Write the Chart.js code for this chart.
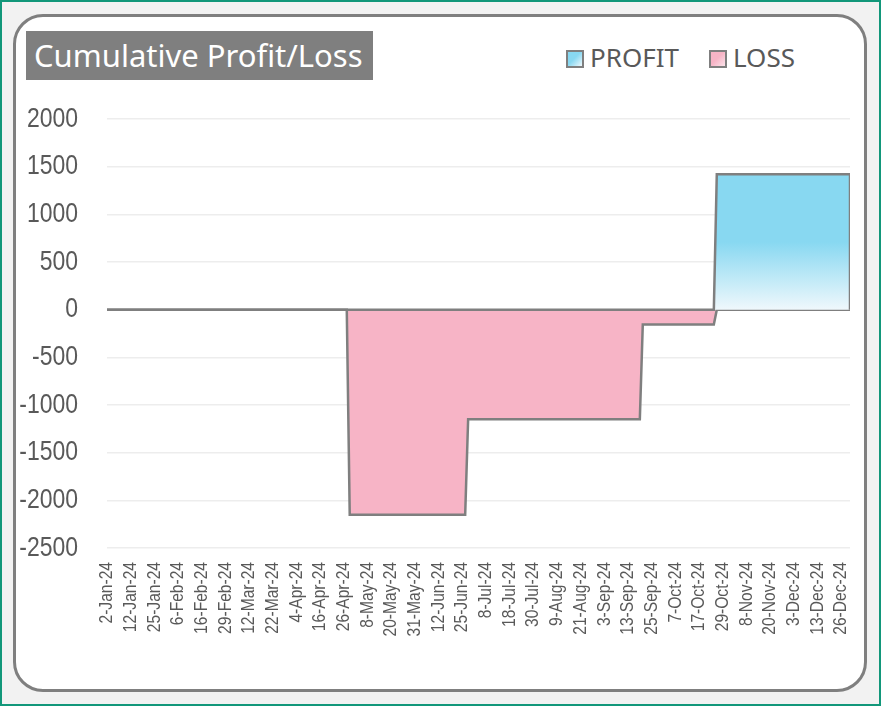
<!DOCTYPE html>
<html>
<head>
<meta charset="utf-8">
<script src="https://cdn.jsdelivr.net/npm/chart.js@4"></script>
<style>
  html, body { margin: 0; padding: 0; }
  body { width: 881px; height: 706px; background: #f2f2f2; position: relative; overflow: hidden; }
  .edge { position: absolute; left: 0; top: 0; width: 877px; height: 702px; border: 2px solid #12977a; }
  .frame { position: absolute; left: 13px; top: 14px; width: 848px; height: 672px; border: 3px solid #7f7f7f; border-radius: 30px; background: #fff; }
  .title { position: absolute; left: 26px; top: 31px; width: 347px; height: 49px; background: #7f7f7f; color: #fff;
           font-family: "Noto Sans", sans-serif; font-size: 31px; line-height: 49px; padding-left: 8px; box-sizing: border-box; white-space: nowrap; }
  .legend { position: absolute; top: 41px; font-family: "Noto Sans", sans-serif; font-size: 26px; color: #595959; line-height: 32px; }
  .legend span.box { display: inline-block; width: 14px; height: 14px; border: 2px solid #7f7f7f; vertical-align: -1px; margin-right: 6px; }
  canvas { position: absolute; left: 0; top: 0; }
</style>
</head>
<body>
<div class="edge"></div>
<div class="frame"></div>
<div class="title">Cumulative Profit/Loss</div>
<div class="legend" style="left:566px"><span class="box" style="background:linear-gradient(135deg,#88d8f1 45%,#eef8fc)"></span>PROFIT</div>
<div class="legend" style="left:709px"><span class="box" style="background:linear-gradient(135deg,#f7b4c6 45%,#fbe3ea)"></span>LOSS</div>
<canvas id="myChart" width="881" height="706"></canvas>
<script>
// x = trading day number in 2024 (0 = 2-Jan-24), one tick label every 8 trading days
const tickLabels = ["2-Jan-24", "12-Jan-24", "25-Jan-24", "6-Feb-24", "16-Feb-24", "29-Feb-24", "12-Mar-24", "22-Mar-24",
  "4-Apr-24", "16-Apr-24", "26-Apr-24", "8-May-24", "20-May-24", "31-May-24", "12-Jun-24", "25-Jun-24",
  "8-Jul-24", "18-Jul-24", "30-Jul-24", "9-Aug-24", "21-Aug-24", "3-Sep-24", "13-Sep-24", "25-Sep-24",
  "7-Oct-24", "17-Oct-24", "29-Oct-24", "8-Nov-24", "20-Nov-24", "3-Dec-24", "13-Dec-24", "26-Dec-24"];
const tickEvery = 8;
const lastDay = 251;

const profitDays   = [0, 205, 206, 251, 251];
const profitValues = [0, 0, 1420, 1420, 0];

const lossDays   = [0, 81, 82, 121, 122, 180, 181, 205, 206, 251];
const lossValues = [0, 0, -2150, -2150, -1150, -1150, -155, -155, 0, 0];

const yTicks = { min: -2500, max: 2000, step: 500 };

// no Arial Narrow here: ticks use Liberation Sans squeezed horizontally
const narrow = '"Liberation Sans", Arial, sans-serif';
const squeeze = 0.82;

const narrowText = {
  id: 'narrowText',
  beforeDraw(chart) {
    const ctx = chart.ctx;
    if (ctx._squeezed) return;
    const orig = ctx.fillText;
    ctx.fillText = function (text, x, y, maxWidth) {
      if (!this.font.includes('Liberation Sans')) return orig.call(this, text, x, y, maxWidth);
      this.save();
      this.translate(x, y);
      this.scale(squeeze, 1);
      orig.call(this, text, 0, 0);
      this.restore();
    };
    ctx._squeezed = true;
  }
};

const profitFill = (c) => {
  const chart = c.chart;
  if (!chart.chartArea) return '#88d8f1';
  const y = chart.scales.y;
  const top = y.getPixelForValue(Math.max(...profitValues));
  const base = y.getPixelForValue(0);
  const g = chart.ctx.createLinearGradient(0, top, 0, base);
  g.addColorStop(0, '#88d8f1');
  g.addColorStop(0.5, '#88d8f1');
  g.addColorStop(1, '#eff8fc');
  return g;
};

new Chart('myChart', {
  type: 'line',
  data: {
    datasets: [
      {
        label: 'PROFIT',
        data: profitDays.map((d, i) => ({ x: d, y: profitValues[i] })),
        backgroundColor: profitFill,
        borderColor: '#7f7f7f',
        borderWidth: 2.5,
        fill: 'origin',
        pointRadius: 0,
        tension: 0
      },
      {
        label: 'LOSS',
        data: lossDays.map((d, i) => ({ x: d, y: lossValues[i] })),
        backgroundColor: '#f7b4c6',
        borderColor: '#7f7f7f',
        borderWidth: 2.5,
        fill: 'origin',
        pointRadius: 0,
        tension: 0
      }
    ]
  },
  plugins: [narrowText],
  options: {
    responsive: false,
    animation: false,
    events: [],
    layout: { padding: { left: 0, right: 31, top: 119, bottom: 0 } },
    plugins: { legend: { display: false }, tooltip: { enabled: false } },
    scales: {
      x: {
        type: 'linear',
        min: 0,
        max: lastDay,
        afterBuildTicks: (s) => { s.ticks = tickLabels.map((t, i) => ({ value: i * tickEvery })); },
        afterFit: (s) => { s.height = 158; },
        grid: { display: false, drawTicks: false },
        border: { display: false },
        ticks: {
          autoSkip: false,
          minRotation: 90,
          maxRotation: 90,
          padding: 14,
          color: '#595959',
          font: { family: narrow, size: 19 },
          callback: (v) => tickLabels[Math.round(v / tickEvery)]
        }
      },
      y: {
        min: yTicks.min,
        max: yTicks.max,
        afterFit: (s) => { s.width = 107; },
        grid: { color: '#ededed', lineWidth: 1.5, drawTicks: false },
        border: { display: false },
        ticks: {
          stepSize: yTicks.step,
          padding: 29,
          color: '#595959',
          font: { family: narrow, size: 28 },
          callback: (v) => String(v)
        }
      }
    }
  }
});
</script>
</body>
</html>
